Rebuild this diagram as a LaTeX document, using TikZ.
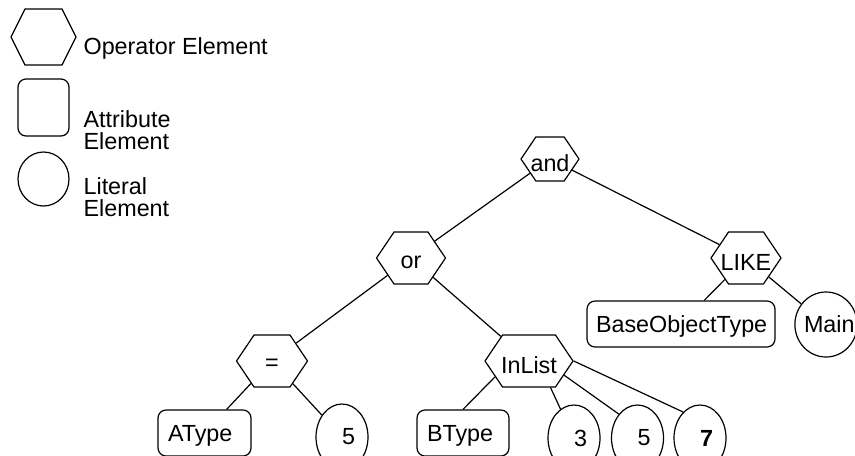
\documentclass[tikz,border=0pt]{standalone}
\usepackage{fontspec}
\setmainfont{Liberation Sans}
\usetikzlibrary{shapes.geometric, shapes.symbols}
\tikzset{
  every picture/.style={font=\fontsize{17.5}{16.5}\selectfont, line width=0.9pt},
  hexop/.style={signal, signal to=east and west, signal pointer angle=112, draw, inner sep=0pt,
                minimum height=39pt, label={[yshift=-3pt, inner sep=0pt]center:#1}},
  hexop/.default={},
  attr/.style={draw, rounded corners=6pt, minimum height=34.5pt, inner xsep=7.5pt, inner ysep=0pt,
               align=left, text depth=0pt},
  lit/.style={draw, ellipse, minimum width=39pt, minimum height=49.5pt, inner sep=0pt,
              text width=19.5pt, align=right},
  legtext/.style={inner sep=0pt, align=left},
}

\begin{document}
\begin{tikzpicture}[x=0.75pt, y=-0.75pt]
  \useasboundingbox (0,0) rectangle (855,455);
  \clip (0,0) rectangle (855,455);
  \node[hexop, minimum width=48.75pt, minimum height=42pt, signal pointer angle=127] (leghex) at (43.5,37) {};
  \node[attr, minimum width=38.25pt, minimum height=42.75pt] (legbox) at (43.5,107.5) {};
  \node[lit, minimum width=38.25pt, minimum height=40.5pt] (legell) at (43.5,179) {};
  \node[legtext, anchor=base west] (optext) at (83,54) {Operator Element};
  \node[legtext, anchor=north west] (attrtext) at (83,110) {Attribute\\Element};
  \node[legtext, anchor=north west] (littext) at (83,177) {Literal\\Element};

  \node[hexop=and, minimum width=43.5pt, minimum height=33pt] (and) at (550,159) {};
  \node[hexop=or, minimum width=51.75pt] (or) at (411,258) {};
  \node[hexop=LIKE, minimum width=52.5pt] (like) at (746,258) {};
  \node[hexop={=}, minimum width=53.25pt] (eq) at (272,361) {};
  \node[hexop=InList, minimum width=66pt] (inlist) at (529,361) {};
  \node[attr, text width=127.5pt, inner xsep=6.75pt] (bot) at (681,324) {BaseObjectType};
  \node[lit, text width=33pt, minimum width=46.5pt, minimum height=48.75pt] (mainlit) at (826,324.5) {Main};
  \node[attr, text width=54.75pt] (atype) at (204.5,433) {AType};
  \node[lit] (eqlit) at (342,437) {5};
  \node[attr, text width=54pt] (btype) at (463,433) {BType};
  \node[lit] (in3) at (574,438) {3};
  \node[lit] (in5) at (637.5,438) {5};
  \node[lit] (in7) at (700,438) {\textbf{7}};

  \draw (and) -- (or); \draw (and) -- (like);
  \draw (or) -- (eq); \draw (or) -- (inlist);
  \draw (like) -- (bot); \draw (like) -- (mainlit);
  \draw (eq) -- (atype); \draw (eq) -- (eqlit);
  \draw (inlist.205) -- (btype.north); \draw (inlist.-51) -- (in3.115);
  \draw (inlist.-22) -- (in5.128); \draw (inlist.east) -- (in7.123);
\end{tikzpicture}
\end{document}
